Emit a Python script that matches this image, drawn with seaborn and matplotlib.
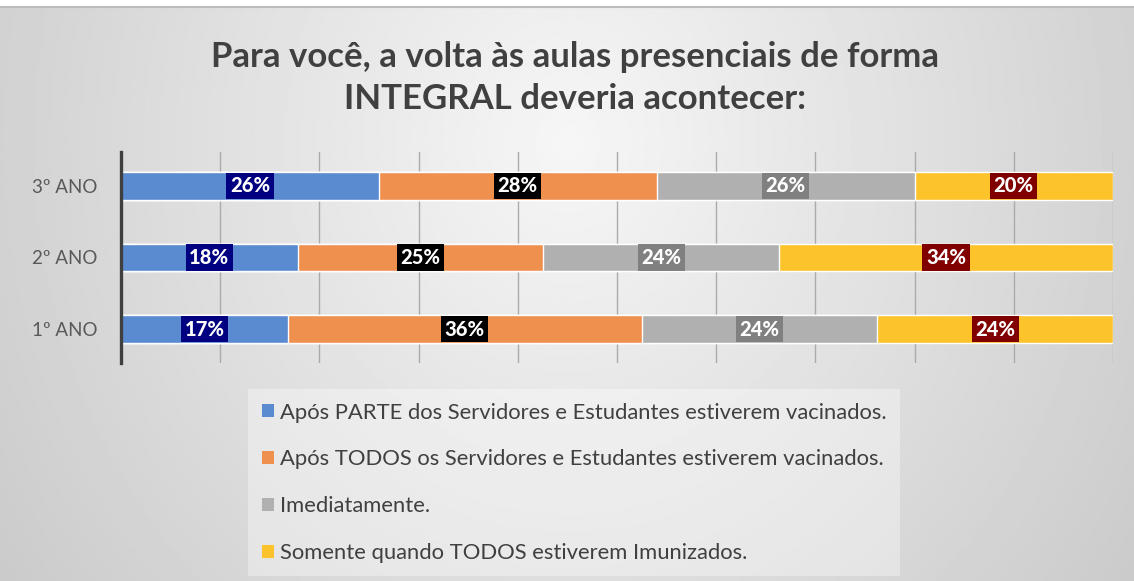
import numpy as np
import pandas as pd
import seaborn as sns
import matplotlib.pyplot as plt
from matplotlib.patches import Patch

titulo = "Para você, a volta às aulas presenciais de forma\nINTEGRAL deveria acontecer:"
anos = ["3º ANO", "2º ANO", "1º ANO"]
respostas = [
    "Após PARTE dos Servidores e Estudantes estiverem vacinados.",
    "Após TODOS os Servidores e Estudantes estiverem vacinados.",
    "Imediatamente.",
    "Somente quando TODOS estiverem Imunizados.",
]
parte = [26, 18, 17]
todos_vacinados = [28, 25, 36]
imediatamente = [26, 24, 24]
todos_imunizados = [20, 34, 24]

cores = ["#5A8AD0", "#F0904E", "#B0B0B0", "#FDC32A"]
cores_rotulo = ["#000080", "#000000", "#808080", "#800000"]

fonte = ["Lato", "DejaVu Sans"]
plt.rcParams["font.family"] = fonte

df = pd.DataFrame({"ano": anos, respostas[0]: parte, respostas[1]: todos_vacinados,
                   respostas[2]: imediatamente, respostas[3]: todos_imunizados})
valores = df[respostas].to_numpy(dtype=float)
frac = valores / valores.sum(axis=1, keepdims=True)
acum = frac.cumsum(axis=1)

fig = plt.figure(figsize=(11.34, 5.81), dpi=100)
fig.patch.set_facecolor("white")

# fundo com degradê
bg = fig.add_axes([0, 0, 1, 1 - 8 / 581])
yy, xx = np.mgrid[0:300, 0:600]
r = np.sqrt(((xx - 300) / 340) ** 2 + ((yy - 70) / 380) ** 2)
bg.imshow(0.965 - 0.16 * r, cmap="gray", vmin=0, vmax=1, aspect="auto", interpolation="bilinear")
bg.axis("off")
fig.add_artist(plt.Line2D([0, 1], [1 - 7 / 581] * 2, color="#BDBDBD", lw=1.5))

ax = fig.add_axes([121 / 1134, 1 - 363 / 581, 992 / 1134, 211 / 581])
ax.patch.set_alpha(0)

for i in range(len(respostas) - 1, -1, -1):
    sns.barplot(x=acum[:, i], y=anos, order=anos, orient="h", color=cores[i],
                width=0.39, edgecolor="white", linewidth=1, saturation=1, ax=ax)

for j, ano in enumerate(anos):
    for i in range(len(respostas)):
        centro = acum[j, i] - frac[j, i] / 2
        ax.text(centro, j, f"{int(valores[j, i])}%", ha="center", va="center",
                color="white", fontsize=14.5, fontweight="black",
                bbox=dict(boxstyle="square,pad=0.18", fc=cores_rotulo[i], ec="none"))

ax.set_xlim(0, 1)
ax.set_ylim(2.475, -0.475)
ax.set_xticks(np.linspace(0.1, 1, 10))
ax.set_xticklabels([])
ax.grid(axis="x", color="#ABABAB", lw=1)
ax.set_axisbelow(True)
ax.tick_params(axis="x", length=0)
ax.tick_params(axis="y", length=0, pad=17, labelsize=13.5, labelcolor="#595959")
for s in ["top", "right", "bottom"]:
    ax.spines[s].set_visible(False)
ax.spines["left"].set_color("#3F3F3F")
ax.spines["left"].set_linewidth(2.4)
ax.set_xlabel("")
ax.set_ylabel("")

fig.text(0.507, 1 - 78 / 581, titulo, ha="center", va="center", fontsize=25,
         fontweight="bold", color="#404040", linespacing=1.35)

handles = [Patch(facecolor=c, edgecolor="none") for c in cores]
leg = fig.legend(handles, respostas, loc="upper left", bbox_to_anchor=(255 / 1134, 1 - 396 / 581),
                 borderaxespad=0, frameon=True, labelcolor="#404040",
                 handlelength=0.55, handleheight=0.55, handletextpad=0.3, labelspacing=1.22,
                 borderpad=0.3, prop={"size": 15.8})
leg.get_frame().set_facecolor("white")
leg.get_frame().set_alpha(0.35)
leg.get_frame().set_edgecolor("none")
leg.get_frame().set_boxstyle("square")

fig.savefig("out.png", dpi=100)
